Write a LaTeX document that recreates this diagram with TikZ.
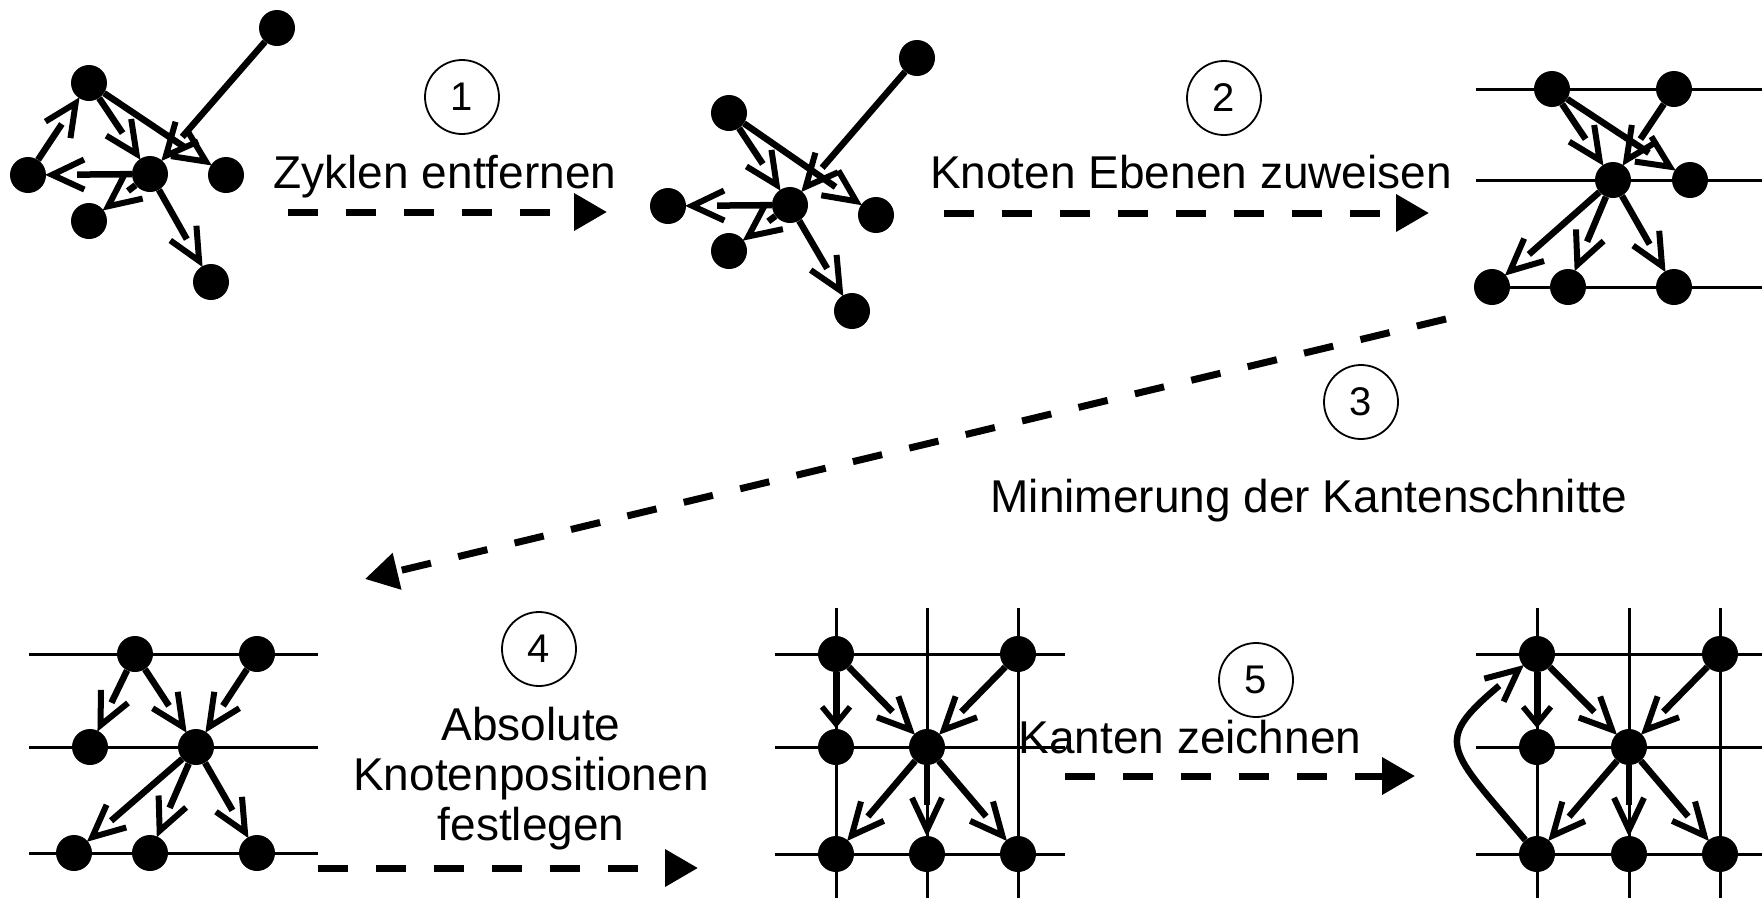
\documentclass[tikz,border=0pt]{standalone}
\usepackage{fontspec}
\setmainfont{Liberation Sans}
\usetikzlibrary{arrows.meta}
\pgfdeclarearrow{
  name = vtip,
  setup code = {
    \pgfarrowssettipend{0pt}
    \pgfarrowssetlineend{-31pt}
    \pgfarrowssetbackend{-38pt}
    \pgfarrowsupperhullpoint{-38pt}{15pt}
    \pgfarrowsupperhullpoint{0pt}{0pt}
  },
  drawing code = {
    \pgfsetdash{}{0pt}
    \pgfsetlinewidth{6pt}
    \pgfsetbuttcap
    \pgfsetmiterjoin
    \pgfpathmoveto{\pgfpoint{-38pt}{15pt}}
    \pgfpathlineto{\pgfpoint{-6pt}{0pt}}
    \pgfpathlineto{\pgfpoint{-38pt}{-15pt}}
    \pgfusepathqstroke
  }
}
\pgfdeclarearrow{
  name = vtipshort,
  setup code = {
    \pgfarrowssettipend{0pt}
    \pgfarrowssetlineend{-11pt}
    \pgfarrowssetbackend{-22pt}
    \pgfarrowsupperhullpoint{-22pt}{14pt}
    \pgfarrowsupperhullpoint{0pt}{0pt}
  },
  drawing code = {
    \pgfsetdash{}{0pt}
    \pgfsetlinewidth{5.5pt}
    \pgfsetbuttcap
    \pgfsetmiterjoin
    \pgfpathmoveto{\pgfpoint{-22pt}{14pt}}
    \pgfpathlineto{\pgfpoint{-5pt}{0pt}}
    \pgfpathlineto{\pgfpoint{-22pt}{-14pt}}
    \pgfusepathqstroke
  }
}
\begin{document}
\begin{tikzpicture}[x=1pt,y=1pt,
  vert/.style={circle,fill=black,minimum size=36pt,inner sep=0pt},
  gedge/.style={line width=6.5pt,-vtip},
  gshort/.style={line width=7pt,-vtipshort},
  level/.style={line width=3pt},
  flow/.style={line width=7pt,dash pattern=on 30pt off 28pt,-{Triangle[length=33pt,width=36pt]}},
  num/.style={circle,draw,line width=1.8pt,minimum size=74pt,inner sep=0pt,font=\fontsize{40pt}{44pt}\selectfont},
  lbl/.style={font=\fontsize{46pt}{50pt}\selectfont,inner sep=0pt,anchor=base}
]
\fill[white] (0,0) rectangle (1762,-898);
\useasboundingbox (0,0) rectangle (1762,-898);

% ---------- level / grid lines ----------
\foreach \y in {89,180,287} \draw[level] (1476,-\y) -- (1762,-\y);
\foreach \y in {654,747,853} \draw[level] (29,-\y) -- (318,-\y);
\foreach \y in {654,747,854} \draw[level] (775,-\y) -- (1065,-\y);
\foreach \x in {836,927,1018} \draw[level] (\x,-608) -- (\x,-898);
\foreach \y in {654,747,854} \draw[level] (1476,-\y) -- (1762,-\y);
\foreach \x in {1537,1629,1720} \draw[level] (\x,-608) -- (\x,-898);

% ---------- panel 1 ----------
\node[vert] (a1) at (89,-83) {};
\node[vert] (b1) at (277,-28) {};
\node[vert] (l1) at (28,-175) {};
\node[vert] (c1) at (150,-174) {};
\node[vert] (r1) at (226,-175) {};
\node[vert] (s1) at (89,-221) {};
\node[vert] (d1) at (211,-282) {};
\draw[gedge] (l1) -- (a1);
\draw[gedge] (a1) -- (c1);
\draw[gedge] (a1) -- (r1);
\draw[gedge] (b1) -- (c1);
\draw[gedge] (c1) -- (l1);
\draw[gedge] (c1) -- (s1);
\draw[gedge] (c1) -- (d1);

% ---------- panel 2 ----------
\node[vert] (a2) at (729,-113) {};
\node[vert] (b2) at (917,-58) {};
\node[vert] (l2) at (668,-206) {};
\node[vert] (c2) at (790,-205) {};
\node[vert] (r2) at (876,-215) {};
\node[vert] (s2) at (729,-251) {};
\node[vert] (d2) at (852,-311) {};
\draw[gedge] (a2) -- (c2);
\draw[gedge] (a2) -- (r2);
\draw[gedge] (b2) -- (c2);
\draw[gedge] (c2) -- (l2);
\draw[gedge] (c2) -- (s2);
\draw[gedge] (c2) -- (d2);

% ---------- panel 3 ----------
\node[vert] (tl3) at (1552,-89) {};
\node[vert] (tr3) at (1674,-89) {};
\node[vert] (c3) at (1613,-180) {};
\node[vert] (r3) at (1690,-180) {};
\node[vert] (bl3) at (1492,-287) {};
\node[vert] (bm3) at (1568,-287) {};
\node[vert] (br3) at (1674,-287) {};
\draw[gedge] (tl3) -- (c3);
\draw[gedge] (tl3) -- (r3);
\draw[gedge] (tr3) -- (c3);
\draw[gedge] (c3) -- (bl3);
\draw[gedge] (c3) -- (bm3);
\draw[gedge] (c3) -- (br3);

% ---------- panel 4 ----------
\node[vert] (t14) at (135,-654) {};
\node[vert] (t24) at (257,-654) {};
\node[vert] (m14) at (90,-747) {};
\node[vert] (m24) at (196,-747) {};
\node[vert] (b14) at (74,-853) {};
\node[vert] (b24) at (150,-853) {};
\node[vert] (b34) at (257,-853) {};
\draw[gedge] (t14) -- (m14);
\draw[gedge] (t14) -- (m24);
\draw[gedge] (t24) -- (m24);
\draw[gedge] (m24) -- (b14);
\draw[gedge] (m24) -- (b24);
\draw[gedge] (m24) -- (b34);

% ---------- panel 5 ----------
\node[vert] (t15) at (836,-654) {};
\node[vert] (t25) at (1018,-654) {};
\node[vert] (m15) at (836,-747) {};
\node[vert] (m25) at (927,-747) {};
\node[vert] (b15) at (836,-854) {};
\node[vert] (b25) at (927,-854) {};
\node[vert] (b35) at (1018,-854) {};
\draw[gshort] (t15) -- (m15);
\draw[gedge] (t15) -- (m25);
\draw[gedge] (t25) -- (m25);
\draw[gedge] (m25) -- (b15);
\draw[gedge] (m25) -- (b25);
\draw[gedge] (m25) -- (b35);

% ---------- panel 6 ----------
\node[vert] (t16) at (1537,-654) {};
\node[vert] (t26) at (1720,-654) {};
\node[vert] (m16) at (1537,-747) {};
\node[vert] (m26) at (1629,-747) {};
\node[vert] (b16) at (1537,-854) {};
\node[vert] (b26) at (1629,-854) {};
\node[vert] (b36) at (1720,-854) {};
\draw[gshort] (t16) -- (m16);
\draw[gedge] (t16) -- (m26);
\draw[gedge] (t26) -- (m26);
\draw[gedge] (m26) -- (b16);
\draw[gedge] (m26) -- (b26);
\draw[gedge] (m26) -- (b36);
\draw[gedge] (b16) to[out=130,in=-140,looseness=1.75] (t16);

% ---------- step labels ----------
\node[num] (n1) at (462,-97) {1};
\node[lbl] (txt1) at (445,-188) {Zyklen entfernen};
\coordinate (f1s) at (288,-212);
\coordinate (f1e) at (607,-212);
\draw[flow] (f1s) -- (f1e);

\node[num] (n2) at (1224,-98) {2};
\node[lbl] (txt2) at (1191,-188) {Knoten Ebenen zuweisen};
\coordinate (f2s) at (944,-213);
\coordinate (f2e) at (1429,-213);
\draw[flow] (f2s) -- (f2e);

\node[num] (n3) at (1361,-402) {3};
\node[lbl] (txt3) at (1309,-512) {Minimerung der Kantenschnitte};
\coordinate (f3s) at (1446,-319);
\coordinate (f3e) at (365,-579);
\draw[flow] (f3s) -- (f3e);

\node[num] (n4) at (539,-649) {4};
\node[font=\fontsize{46pt}{50pt}\selectfont,inner sep=0pt,align=center,anchor=north] (txt4) at (531,-707) {Absolute\\Knotenpositionen\\festlegen};
\coordinate (f4s) at (318,-868);
\coordinate (f4e) at (698,-868);
\draw[flow] (f4s) -- (f4e);

\node[num] (n5) at (1256,-680) {5};
\node[lbl] (txt5) at (1190,-753) {Kanten zeichnen};
\coordinate (f5s) at (1065,-776);
\coordinate (f5e) at (1415,-776);
\draw[flow] (f5s) -- (f5e);
\end{tikzpicture}
\end{document}
